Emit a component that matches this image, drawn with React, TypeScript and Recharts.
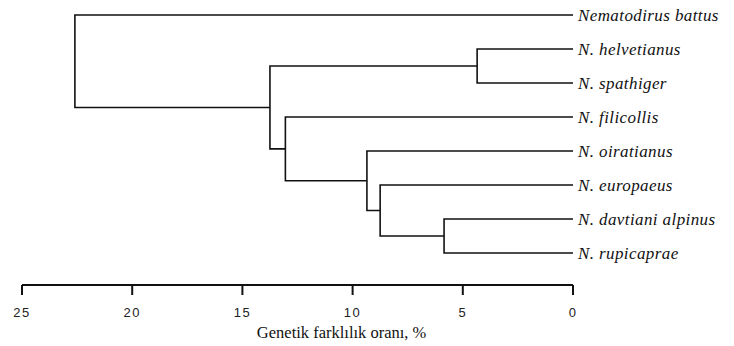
import { ScatterChart, Scatter, XAxis, YAxis } from 'recharts';

// yapraklar (yukarıdan aşağıya)
const leafNames = [
  'Nematodirus battus',
  'N. helvetianus',
  'N. spathiger',
  'N. filicollis',
  'N. oiratianus',
  'N. europaeus',
  'N. davtiani alpinus',
  'N. rupicaprae',
];

// birleşmeler: id < 8 yaprak, id >= 8 önceki birleşme (8 + sıra)
const mergeLeft = [1, 6, 5, 4, 3, 8, 0];
const mergeRight = [2, 7, 9, 10, 11, 12, 13];
const mergeHeight = [4.35, 5.85, 8.75, 9.35, 13.05, 13.75, 22.6];

const xTicks = [0, 5, 10, 15, 20, 25];
const leafTicks = leafNames.map((_, i) => i);

const n = leafNames.length;
const nodeX: number[] = leafNames.map(() => 0);
const nodeY: number[] = leafNames.map((_, i) => i);
mergeHeight.forEach((h, i) => {
  nodeX[n + i] = h;
  nodeY[n + i] = (nodeY[mergeLeft[i]] + nodeY[mergeRight[i]]) / 2;
});

// her birleşme için dirsek şekli: A -> (h, yA) -> (h, yB) -> B
const branches = mergeHeight.map((h, i) => {
  const a = mergeLeft[i];
  const b = mergeRight[i];
  return [
    { x: nodeX[a], y: nodeY[a] },
    { x: h, y: nodeY[a] },
    { x: h, y: nodeY[b] },
    { x: nodeX[b], y: nodeY[b] },
  ];
});

const LeafTick = (props: any) => {
  const { x, y, payload } = props;
  return (
    <text
      x={x}
      y={y}
      dy="0.35em"
      textAnchor="start"
      fontFamily="'Liberation Serif', serif"
      fontStyle="italic"
      fontSize={17}
      letterSpacing={0.4}
      fill="#111"
    >
      {leafNames[payload.value]}
    </text>
  );
};

const AxisTitle = (props: any) => {
  const { viewBox } = props;
  return (
    <text
      x={viewBox.x + viewBox.width * 0.58}
      y={viewBox.y + 53}
      textAnchor="middle"
      fontFamily="'Liberation Serif', serif"
      fontSize={16.5}
      fill="#111"
    >
      Genetik farklılık oranı, %
    </text>
  );
};

const Nothing = () => <g />;

const App = () => {
  return (
    <div style={{ position: 'absolute', left: 0, top: 0, background: '#fff' }}>
      <ScatterChart width={734} height={346} margin={{ top: 5, right: 0, left: 22, bottom: 0 }}>
        <XAxis
          type="number"
          dataKey="x"
          domain={[0, 25]}
          ticks={xTicks}
          reversed
          height={61}
          axisLine={{ stroke: '#111', strokeWidth: 2 }}
          tickLine={{ stroke: '#111', strokeWidth: 2 }}
          tickSize={10}
          tickMargin={13}
          tick={{ fill: '#222', fontSize: 13, fontFamily: "'Liberation Sans', sans-serif", letterSpacing: 1.5 }}
          label={<AxisTitle />}
        />
        <YAxis
          type="number"
          dataKey="y"
          orientation="right"
          domain={[-0.294, 7.941]}
          allowDataOverflow
          reversed
          ticks={leafTicks}
          interval={0}
          width={161}
          axisLine={false}
          tickLine={false}
          tickSize={3}
          tickMargin={2}
          tick={<LeafTick />}
        />
        {branches.map((pts, i) => (
          <Scatter
            key={i}
            data={pts}
            line={{ stroke: '#111', strokeWidth: 1.6 }}
            lineType="joint"
            shape={<Nothing />}
            legendType="none"
            isAnimationActive={false}
          />
        ))}
      </ScatterChart>
    </div>
  );
};

export default App;
